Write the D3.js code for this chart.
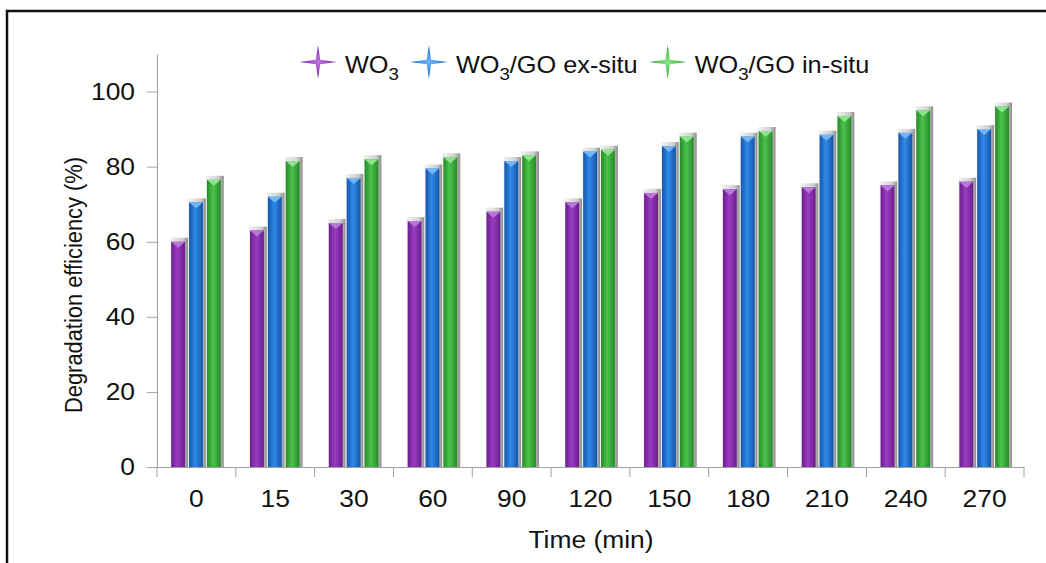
<!DOCTYPE html>
<meta charset="utf-8">
<script src="https://d3js.org/d3.v7.min.js"></script>
<style>
  body { margin: 0; background: #fff; }
  svg { display: block; font-family: "Liberation Sans", Arial, sans-serif; }
  .axis path, .axis line { stroke: #a0a0a0; }
  .axis text { font-size: 24px; fill: #111; }
</style>
<body>
</body>
<script>
  // data
  let times = ["0", "15", "30", "60", "90", "120", "150", "180", "210", "240", "270"];
  let wo3 = [60, 63, 65, 65.5, 68, 70.5, 73, 74, 74.5, 75, 76];
  let exSitu = [70.5, 72, 77, 79.5, 81.5, 84, 85.5, 88, 88.5, 89, 90];
  let inSitu = [76.5, 81.5, 82, 82.5, 83, 84.5, 88, 89.5, 93.5, 95, 96];
  let yTicks = [0, 20, 40, 60, 80, 100];

  let series = [
    { key: "wo3", name: ["WO", "3", ""], values: wo3, dark: "#6a1e8e", mid: "#9a3cc2", light: "#b877d8" },
    { key: "ex", name: ["WO", "3", "/GO ex-situ"], values: exSitu, dark: "#1455ad", mid: "#2f8ae6", light: "#74b6f4" },
    { key: "in", name: ["WO", "3", "/GO in-situ"], values: inSitu, dark: "#278a27", mid: "#4cc24c", light: "#8ee38e" }
  ];

  let width = 1046, height = 563;
  let plot = { left: 157, right: 1024, top: 54, bottom: 467 };
  let stretch = 1.1; // the original text is a little wide

  let svg = d3.select("body").append("svg")
    .attr("width", width)
    .attr("height", height);

  // frame (only left and top edges show)
  svg.append("path")
    .attr("d", `M7,${height} V11 H${width}`)
    .attr("fill", "none")
    .attr("stroke", "#111")
    .attr("stroke-width", 2.5);

  let defs = svg.append("defs");
  series.forEach(s => {
    let g = defs.append("linearGradient").attr("id", "grad-" + s.key)
      .attr("x1", 0).attr("x2", 1).attr("y1", 0).attr("y2", 0);
    g.append("stop").attr("offset", "0%").attr("stop-color", s.dark);
    g.append("stop").attr("offset", "45%").attr("stop-color", s.mid);
    g.append("stop").attr("offset", "100%").attr("stop-color", s.dark);
    let r = defs.append("radialGradient").attr("id", "star-" + s.key);
    r.append("stop").attr("offset", "0%").attr("stop-color", s.light);
    r.append("stop").attr("offset", "60%").attr("stop-color", s.mid);
    r.append("stop").attr("offset", "100%").attr("stop-color", s.dark);
  });
  let sg = defs.append("linearGradient").attr("id", "shadow")
    .attr("x1", 0).attr("x2", 1).attr("y1", 0).attr("y2", 0);
  sg.append("stop").attr("offset", "0%").attr("stop-color", "#f2f2f2");
  sg.append("stop").attr("offset", "70%").attr("stop-color", "#d0d0d0");
  sg.append("stop").attr("offset", "100%").attr("stop-color", "#8c8c8c");

  let xScale = d3.scaleBand()
    .domain(times)
    .range([plot.left, plot.right]);

  let bw = xScale.bandwidth();
  let xInner = d3.scaleBand()
    .domain(series.map(s => s.key))
    .range([bw * 0.18, bw * 0.86]);

  let yScale = d3.scaleLinear()
    .domain([0, 110])
    .range([plot.bottom, plot.top]);

  // y axis
  let yAxis = svg.append("g")
    .attr("class", "y axis")
    .attr("transform", `translate(${plot.left},0)`)
    .call(d3.axisLeft(yScale).tickValues(yTicks).tickSize(10).tickSizeOuter(0).tickPadding(10));
  yAxis.selectAll(".tick text").attr("transform", `scale(${stretch},1)`);

  // x axis: labels centred, ticks on band edges
  let xAxis = svg.append("g")
    .attr("class", "x axis")
    .attr("transform", `translate(0,${plot.bottom})`)
    .call(d3.axisBottom(xScale).tickSize(0).tickPadding(23).tickSizeOuter(0));
  xAxis.selectAll(".tick text").attr("transform", `scale(${stretch},1)`);
  xAxis.selectAll(".edge")
    .data(times.concat(["end"])).enter().append("line")
    .attr("class", "edge")
    .attr("x1", d => d === "end" ? plot.right : xScale(d))
    .attr("x2", d => d === "end" ? plot.right : xScale(d))
    .attr("y1", 0).attr("y2", 10);

  // bars
  let barW = xInner.bandwidth() - 4;
  let groups = svg.selectAll(".timeGroup")
    .data(times).enter().append("g")
    .attr("class", "timeGroup")
    .attr("transform", d => `translate(${xScale(d)},0)`);

  series.forEach(s => {
    let bars = groups.append("g").attr("class", "bar " + s.key);
    bars.append("rect")
      .attr("x", xInner(s.key) - 1)
      .attr("y", (d, i) => yScale(s.values[i]) - 4)
      .attr("width", barW + 4)
      .attr("height", (d, i) => plot.bottom - yScale(s.values[i]) + 4)
      .attr("fill", "url(#shadow)");
    bars.append("rect")
      .attr("x", xInner(s.key))
      .attr("y", (d, i) => yScale(s.values[i]))
      .attr("width", barW)
      .attr("height", (d, i) => plot.bottom - yScale(s.values[i]))
      .attr("fill", `url(#grad-${s.key})`);
    bars.append("path")
      .attr("d", (d, i) => {
        let x0 = xInner(s.key), y0 = yScale(s.values[i]);
        return `M${x0},${y0} H${x0 + barW} L${x0 + barW / 2},${y0 + 6} Z`;
      })
      .attr("fill", s.light);
  });

  // legend
  let legend = svg.append("g").attr("class", "legend");
  let star = r => {
    let t = r * 0.13;
    return `M0,${-r} L${t},${-t} L${r * 1.1},0 L${t},${t} L0,${r} L${-t},${t} L${-r * 1.1},0 L${-t},${-t} Z`;
  };
  let lx = 318;
  series.forEach(s => {
    legend.append("path")
      .attr("transform", `translate(${lx},62)`)
      .attr("d", star(17))
      .attr("fill", `url(#star-${s.key})`);
    let t = legend.append("text")
      .attr("transform", `translate(${lx + 27},73) scale(${stretch},1)`)
      .attr("font-size", 23)
      .attr("fill", "#111");
    t.append("tspan").text(s.name[0]);
    t.append("tspan").attr("font-size", 17).attr("dy", 7).text(s.name[1]);
    t.append("tspan").attr("dy", -7).text(s.name[2]);
    lx += 27 + t.node().getComputedTextLength() * stretch + 30;
  });

  // axis titles
  svg.append("text")
    .attr("transform", "translate(82,285) rotate(-90)")
    .attr("text-anchor", "middle")
    .attr("font-size", 23)
    .attr("textLength", 256)
    .attr("lengthAdjust", "spacingAndGlyphs")
    .attr("fill", "#111")
    .text("Degradation efficiency (%)");

  svg.append("text")
    .attr("transform", `translate(591,548) scale(${stretch},1)`)
    .attr("text-anchor", "middle")
    .attr("font-size", 24)
    .attr("fill", "#111")
    .text("Time (min)");
</script>
